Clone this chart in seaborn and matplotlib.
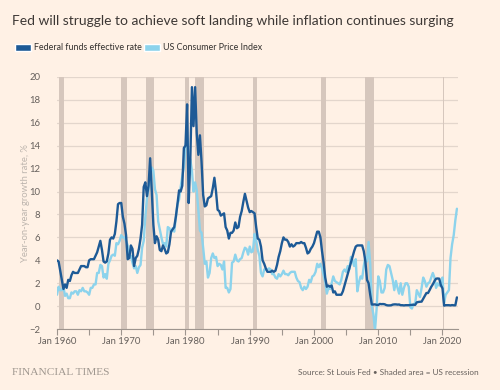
import numpy as np
import pandas as pd
import matplotlib
matplotlib.use("Agg")
import matplotlib.pyplot as plt
import matplotlib.dates as mdates
from matplotlib.patches import Patch
import seaborn as sns

# Quarterly readings (Jan, Apr, Jul, Oct) from Jan 1960 to Apr 2022
fed_funds = [
    4.0, 3.9, 3.1, 2.3,  1.5, 1.9, 1.6, 2.3,  2.2, 2.7, 3.0, 2.9,  2.9, 2.9, 3.2, 3.5,
    3.5, 3.5, 3.4, 3.4,  4.0, 4.1, 4.1, 4.1,  4.4, 4.7, 5.2, 5.7,  4.9, 3.9, 3.8, 3.9,
    4.6, 5.8, 6.0, 5.9,  6.3, 7.4, 8.9, 9.0,  9.0, 7.8, 7.2, 6.2,  4.1, 4.2, 5.3, 5.0,
    3.5, 4.2, 4.4, 5.0,  5.9, 7.1, 10.4, 10.8, 9.6, 10.5, 12.9, 10.1, 7.1, 5.5, 6.1, 5.8,
    4.9, 4.8, 5.3, 5.0,  4.6, 4.7, 5.4, 6.5,  6.7, 6.9, 7.8, 8.9,  10.1, 10.0, 10.5, 13.8,
    14.0, 17.6, 9.0, 12.8, 19.1, 15.7, 19.1, 15.1, 13.2, 14.9, 12.6, 9.7, 8.7, 8.8, 9.4, 9.5,
    9.6, 10.3, 11.2, 10.0, 8.4, 8.3, 7.9, 8.0, 8.1, 6.9, 6.6, 5.9,  6.4, 6.4, 6.6, 7.3,
    6.8, 6.9, 7.8, 8.3,  9.1, 9.8, 9.2, 8.6,  8.2, 8.3, 8.2, 8.1,  6.9, 5.9, 5.8, 5.2,
    4.0, 3.7, 3.3, 3.0,  3.0, 3.0, 3.1, 3.0,  3.1, 3.6, 4.3, 4.8,  5.5, 6.0, 5.8, 5.8,
    5.6, 5.2, 5.4, 5.2,  5.3, 5.5, 5.5, 5.5,  5.6, 5.5, 5.5, 5.1,  4.6, 4.7, 5.0, 5.2,
    5.5, 6.0, 6.5, 6.5,  6.0, 4.8, 3.8, 2.5,  1.7, 1.8, 1.7, 1.8,  1.2, 1.3, 1.0, 1.0,
    1.0, 1.0, 1.3, 1.8,  2.3, 2.8, 3.3, 3.8,  4.3, 4.8, 5.2, 5.3,  5.3, 5.3, 5.3, 4.8,
    3.9, 2.3, 2.0, 1.0,  0.15, 0.15, 0.16, 0.12, 0.11, 0.2, 0.18, 0.19, 0.17, 0.1, 0.07, 0.07,
    0.08, 0.14, 0.16, 0.16, 0.14, 0.15, 0.09, 0.09, 0.07, 0.09, 0.09, 0.09, 0.11, 0.12, 0.13, 0.12,
    0.34, 0.37, 0.39, 0.4, 0.65, 0.9, 1.15, 1.15, 1.41, 1.69, 1.91, 2.19, 2.4, 2.42, 2.4, 1.83,
    1.55, 0.05, 0.09, 0.09, 0.09, 0.07, 0.1, 0.08, 0.08, 0.77,
]

cpi = [
    1.0, 1.7, 1.4, 1.4,  1.7, 0.9, 1.1, 0.7,  0.7, 1.2, 1.1, 1.3,  1.3, 1.0, 1.4, 1.3,
    1.6, 1.3, 1.3, 1.2,  1.0, 1.6, 1.6, 1.9,  1.9, 2.9, 2.9, 3.6,  3.5, 2.5, 2.8, 2.4,
    3.7, 4.0, 4.4, 4.5,  4.4, 5.5, 5.4, 5.7,  6.2, 6.0, 6.0, 5.7,  5.3, 4.2, 4.4, 3.8,
    3.3, 3.5, 2.9, 3.4,  3.6, 5.1, 5.7, 7.8,  9.4, 10.2, 11.5, 12.1, 11.8, 10.2, 9.7, 7.4,
    6.7, 6.0, 5.4, 5.5,  5.2, 6.9, 6.8, 6.4,  6.8, 6.5, 7.7, 8.9,  9.3, 10.4, 11.3, 12.1,
    13.9, 14.7, 13.1, 12.8, 11.8, 10.0, 10.8, 10.1, 8.4, 6.6, 6.4, 5.1, 3.7, 3.9, 2.5, 2.9,
    4.2, 4.6, 4.2, 4.3,  3.5, 3.7, 3.6, 3.2,  3.9, 1.6, 1.6, 1.2,  1.5, 3.8, 3.9, 4.5,
    4.0, 3.9, 4.1, 4.2,  4.7, 5.1, 5.0, 4.5,  5.2, 4.7, 4.8, 6.3,  5.7, 4.9, 4.4, 2.9,
    2.6, 3.2, 3.2, 3.2,  3.3, 3.2, 2.8, 2.8,  2.5, 2.4, 2.8, 2.6,  2.8, 3.1, 2.8, 2.8,
    2.7, 2.9, 3.0, 3.0,  3.0, 2.5, 2.2, 2.1,  1.6, 1.4, 1.7, 1.5,  1.7, 2.3, 2.1, 2.6,
    2.7, 3.0, 3.7, 3.4,  3.7, 3.3, 2.7, 2.1,  1.1, 1.6, 1.5, 2.0,  2.6, 2.2, 2.1, 2.0,
    1.9, 2.3, 3.0, 3.2,  3.0, 3.5, 3.2, 4.3,  4.0, 3.5, 4.1, 1.3,  2.1, 2.6, 2.4, 3.5,
    4.3, 3.9, 5.6, 3.7,  0.0, -0.7, -2.1, -0.2, 2.6, 2.2, 1.2, 1.2, 1.6, 3.2, 3.6, 3.5,
    2.9, 2.3, 1.4, 2.2,  1.6, 1.1, 2.0, 1.0,  1.6, 2.0, 2.0, 1.7,  -0.1, -0.2, 0.2, 0.2,
    1.4, 1.1, 0.8, 1.6,  2.5, 2.2, 1.7, 2.0,  2.1, 2.5, 2.9, 2.5,  1.6, 2.0, 1.8, 1.8,
    2.5, 0.3, 1.0, 1.2,  1.4, 4.2, 5.4, 6.2,  7.5, 8.5,
]

recession_start = ["1960-04", "1969-12", "1973-11", "1980-01", "1981-07",
                   "1990-07", "2001-03", "2007-12", "2020-02"]
recession_end = ["1961-02", "1970-11", "1975-03", "1980-07", "1982-11",
                 "1991-03", "2001-11", "2009-06", "2020-04"]

dates = pd.date_range("1960-01-01", periods=len(fed_funds), freq="QS")
df = pd.DataFrame({"date": dates, "Federal funds effective rate": fed_funds,
                   "US Consumer Price Index": cpi})
long = df.melt(id_vars="date", var_name="series", value_name="value")

bg = "#FFF1E5"
dark_blue = "#1D5A96"
light_blue = "#8CD3EC"
text_grey = "#66605C"

sns.set_theme(style="white", rc={"axes.facecolor": bg, "figure.facecolor": bg})
plt.rcParams["font.family"] = ["Lato", "DejaVu Sans"]

fig = plt.figure(figsize=(5, 3.9), dpi=100)
ax = fig.add_axes([0.114, 0.156, 0.802, 0.647])

# shaded recessions
for s, e in zip(recession_start, recession_end):
    ax.axvspan(pd.Timestamp(s), pd.Timestamp(e), color="#D6C7BD", lw=0, zorder=1)

sns.lineplot(data=long, x="date", y="value", hue="series",
             palette={"Federal funds effective rate": dark_blue,
                      "US Consumer Price Index": light_blue},
             hue_order=["US Consumer Price Index", "Federal funds effective rate"],
             linewidth=1.7, legend=False, ax=ax, zorder=3)

ax.set_ylim(-2, 20)
ax.set_yticks(np.arange(-2, 21, 2))
ax.set_xlim(pd.Timestamp("1960-01-01"), pd.Timestamp("2022-06-01"))
ax.xaxis.set_major_locator(mdates.YearLocator(10))
ax.xaxis.set_minor_locator(mdates.YearLocator(5))
ax.xaxis.set_major_formatter(mdates.DateFormatter("Jan %Y"))
ax.grid(axis="y", color="#E3D6CC", lw=0.9, zorder=0)
ax.set_axisbelow(True)

for side in ["top", "right", "left"]:
    ax.spines[side].set_visible(False)
ax.spines["bottom"].set_color("#9E958E")
ax.spines["bottom"].set_linewidth(0.8)

ax.tick_params(axis="x", which="both", bottom=True, direction="out", length=4,
               width=0.8, color="#9E958E", labelsize=6.8, labelcolor=text_grey, pad=2)
ax.tick_params(axis="y", left=False, labelsize=6.8, labelcolor=text_grey, pad=6)
ax.set_xlabel("")
ax.set_ylabel("Year-on-year growth rate, %", fontsize=6.8, color="#BDB5AE")
ax.yaxis.set_label_coords(-0.068, 0.5)

fig.text(0.024, 0.945, "Fed will struggle to achieve soft landing while inflation continues surging",
         fontsize=10, color="#3D3835", va="center")

handles = [Patch(facecolor=dark_blue, label="Federal funds effective rate"),
           Patch(facecolor=light_blue, label="US Consumer Price Index")]
fig.legend(handles=handles, loc="center left", bbox_to_anchor=(0.014, 0.877),
           ncol=2, frameon=False, fontsize=6.4, handlelength=1.8, handleheight=0.75,
           handletextpad=0.3, columnspacing=0.3, labelcolor="#33302E")

fig.text(0.024, 0.045, "FINANCIAL TIMES", fontsize=8.2, color="#A09890",
         family=["Liberation Serif", "DejaVu Serif"], va="center")
fig.text(0.957, 0.045, "Source: St Louis Fed \u2022 Shaded area = US recession",
         fontsize=5.9, color="#66605C", ha="right", va="center")

fig.savefig("out.png", dpi=100, facecolor=bg)
